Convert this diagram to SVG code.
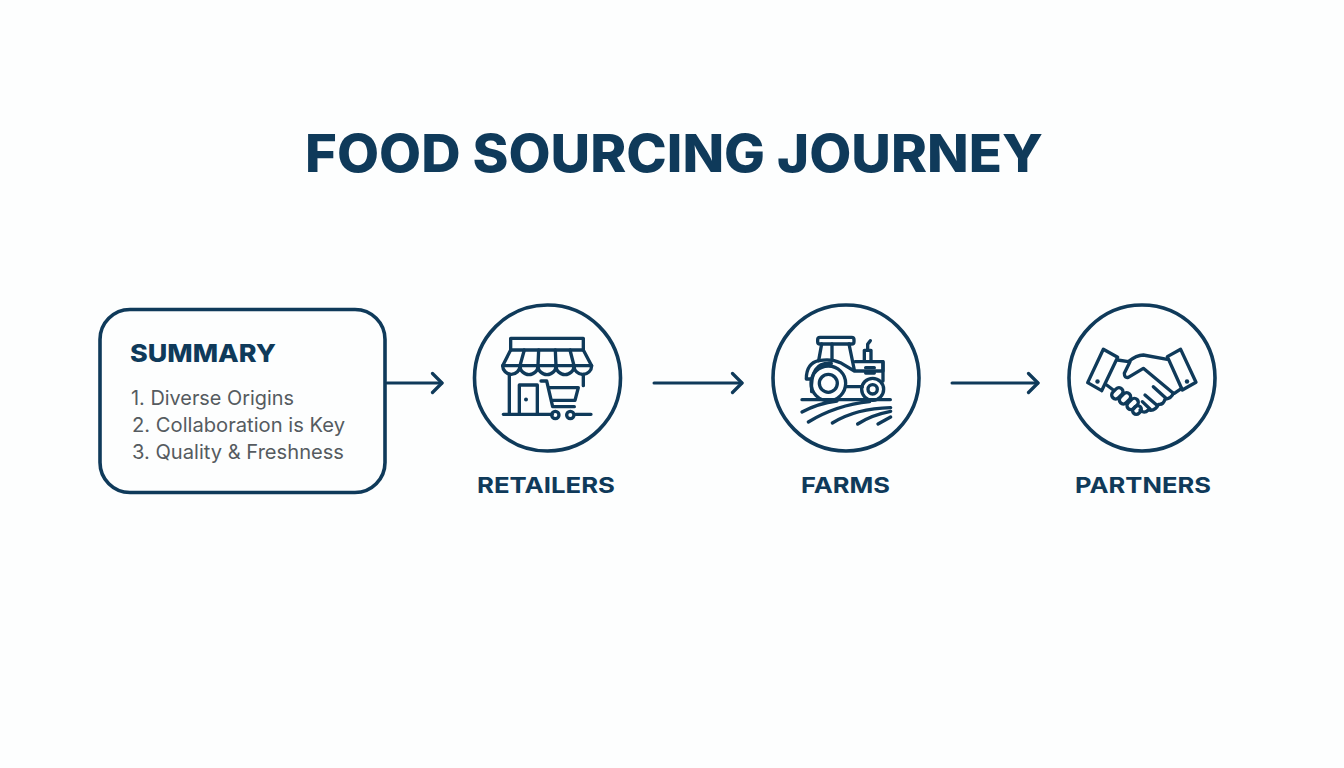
<svg xmlns="http://www.w3.org/2000/svg" width="1344" height="768" viewBox="0 0 1344 768">
<style>
.ink{fill:none;stroke:#0f3a5a;stroke-linecap:round;stroke-linejoin:round}
.ring{stroke-width:3.6}
.ic{stroke-width:10}
.head{font-family:Inter,"Liberation Sans",sans-serif;font-weight:800;fill:#0f3a5a}
.lab{font-family:Inter,"Liberation Sans",sans-serif;font-weight:700;font-size:22px;fill:#0f3a5a}
.body{font-family:Inter,"Liberation Sans",sans-serif;font-size:20px;fill:#555b60}
</style>
<defs><marker id="ah" viewBox="0 0 14 24" refX="12" refY="12" markerWidth="14" markerHeight="24" markerUnits="userSpaceOnUse" orient="auto"><path d="M2.500 2.500L12 12L2.500 21.500" fill="none" stroke="#0f3a5a" stroke-width="3.200" stroke-linecap="round" stroke-linejoin="round"/></marker></defs>
<rect width="1344" height="768" fill="#fdfefe"/>
<text class="head" x="305" y="171.500" font-size="52" textLength="738" lengthAdjust="spacingAndGlyphs">FOOD SOURCING JOURNEY</text>
<g id="connectors" class="ink" stroke-width="3">
<path d="M387 383H442" marker-end="url(#ah)"/>
<path d="M654 383H742" marker-end="url(#ah)"/>
<path d="M952 383H1038" marker-end="url(#ah)"/>
</g>
<g id="summary">
<rect class="ink" x="100" y="309.500" width="285" height="183" rx="30" stroke-width="3.600"/>
<text class="head" x="130" y="362" font-size="25" textLength="146" lengthAdjust="spacingAndGlyphs">SUMMARY</text>
<text class="body" x="131" y="404.500" textLength="163" lengthAdjust="spacingAndGlyphs">1. Diverse Origins</text>
<text class="body" x="132" y="431.500" textLength="213" lengthAdjust="spacingAndGlyphs">2. Collaboration is Key</text>
<text class="body" x="132" y="458.500" textLength="212" lengthAdjust="spacingAndGlyphs">3. Quality &amp; Freshness</text>
</g>
<g id="retailers">
<circle class="ink ring" cx="547.500" cy="378" r="73"/>
<g class="ink ic" transform="translate(465 295) scale(.3333)">
<rect x="137" y="130" width="218" height="35"/>
<path d="M137 165L113 212H380L355 165"/>
<path d="M113 212A26 26 0 0 0 165 212A27 27 0 0 0 219 212A27 27 0 0 0 273 212A27 27 0 0 0 327 212A26 26 0 0 0 380 212"/>
<path d="M178 165L165 212M221 165L219 212M271 165L273 212M315 165L327 212"/>
<path d="M133 238V358M355 238V272"/>
<path d="M115 358H262M332 358H378"/>
<path d="M163 358V270H217V358"/>
<path d="M228 258H245L263 335H328M252 278H340L330 316H261"/>
<circle cx="271" cy="360" r="11"/><circle cx="316" cy="360" r="11"/>
</g>
<circle cx="526" cy="399.500" r="2" fill="#0f3a5a"/>
<text class="lab" x="477" y="493" textLength="138" lengthAdjust="spacingAndGlyphs">RETAILERS</text>
</g>
<g id="farms">
<circle class="ink ring" cx="846" cy="378" r="73"/>
<g class="ink ic" transform="translate(763 295) scale(.3333)">
<rect x="164" y="127" width="109" height="20" rx="7"/>
<path d="M176 147L167 197M258 147L274 225M207 147V193"/>
<path d="M167 197Q205 190 232 203L274 228H360V200H276"/>
<path d="M360 200V258M304 198V166H324V198M314 166V148L322 137"/>
<path d="M308 218H334M308 234H334"/>
<path d="M145 252H130Q130 205 167 197"/>
<path d="M146 290Q140 200 205 205"/>
<circle cx="196" cy="265" r="52"/><circle cx="196" cy="265" r="27"/>
<circle cx="329" cy="283" r="33"/><circle cx="329" cy="283" r="14"/>
<path d="M250 275H298"/>
<path d="M117 314H382"/>
<path d="M117 351Q165 325 222 318M136 381Q220 330 320 320M208 384Q280 340 383 338M284 387Q325 360 383 349M345 387L383 366"/>
</g>
<text class="lab" x="801" y="493" textLength="89" lengthAdjust="spacingAndGlyphs">FARMS</text>
</g>
<g id="partners">
<circle class="ink ring" cx="1142" cy="378" r="73"/>
<g class="ink ic" transform="translate(1060 295) scale(.3333)">
<path d="M130 163L173 187L125 287L83 263Z"/>
<path d="M362 163L322 185L367 285L408 262Z"/>
<path d="M173 195L205 200Q230 180 250 180L322 193"/>
<path d="M140 270L160 285M365 280L343 295"/>
<path d="M210 200L193 235Q193 250 205 247L250 220L340 295"/>
<path d="M280 275L318 310M255 300L290 330M247 320L270 342"/>
<path d="M340 295Q335 310 315 313Q310 330 296 328Q285 350 265 345Q252 358 240 345"/>
<rect x="153" y="283" width="38" height="24" rx="12" transform="rotate(-45 172 295)"/>
<rect x="176" y="298" width="38" height="24" rx="12" transform="rotate(-45 195 310)"/>
<rect x="199" y="315" width="38" height="24" rx="12" transform="rotate(-45 218 327)"/>
<rect x="217" y="334" width="28" height="22" rx="11" transform="rotate(-45 231 345)"/>
</g>
<circle cx="1097.500" cy="381.500" r="2.200" fill="#0f3a5a"/><circle cx="1187" cy="381.500" r="2.200" fill="#0f3a5a"/>
<text class="lab" x="1075" y="493" textLength="136" lengthAdjust="spacingAndGlyphs">PARTNERS</text>
</g>
</svg>
